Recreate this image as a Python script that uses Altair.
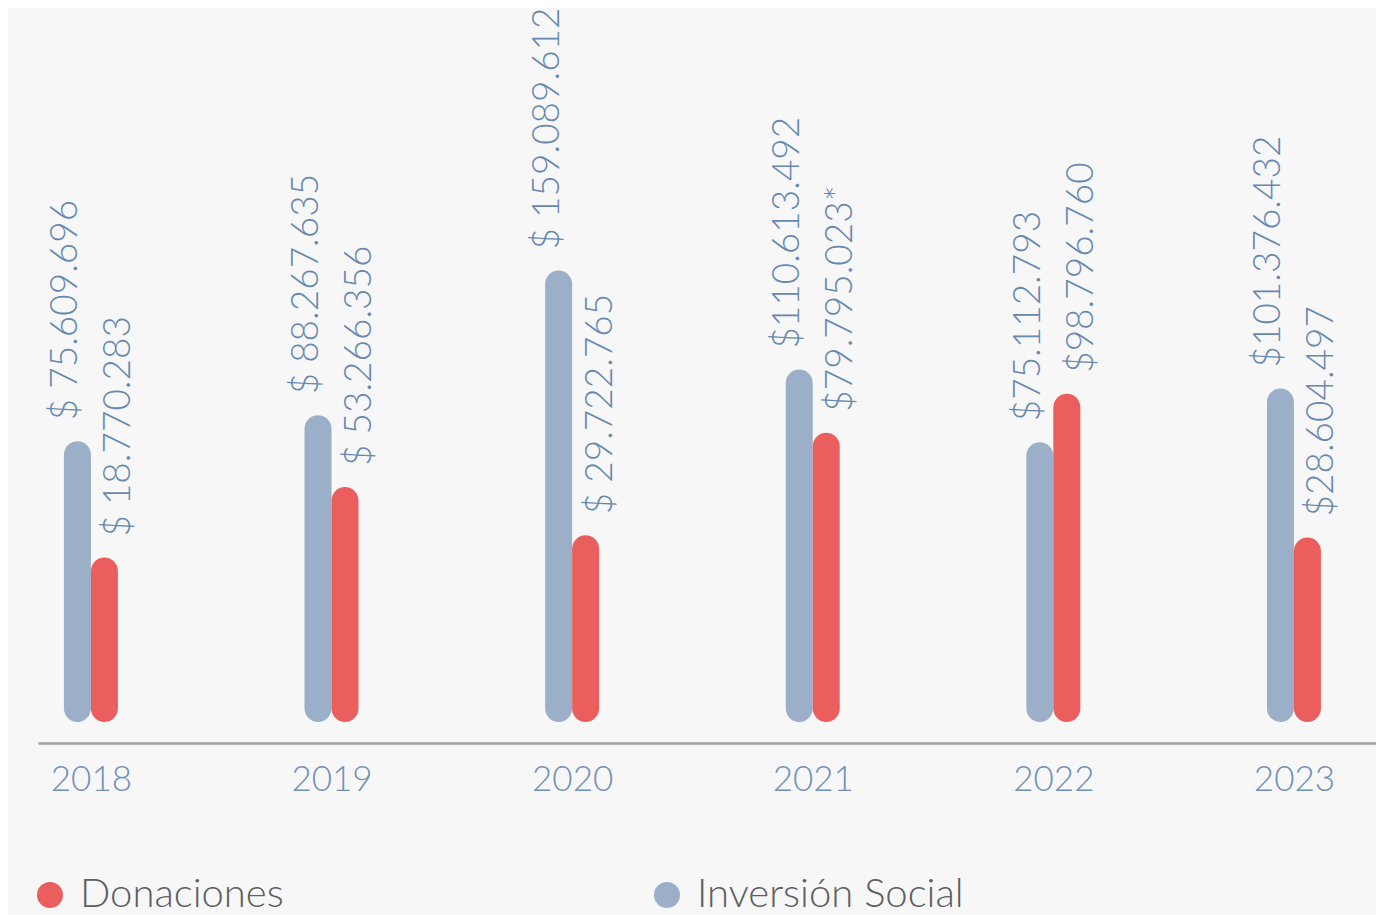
import altair as alt
import pandas as pd

# ---- data ----
years = ["2018", "2019", "2020", "2021", "2022", "2023"]
inversion = [75609696, 88267635, 159089612, 110613492, 75112793, 101376432]
donaciones = [18770283, 53266356, 29722765, 79795023, 98796760, 28604497]
inv_labels = ["$ 75.609.696", "$ 88.267.635", "$ 159.089.612",
              "$110.613.492", "$75.112.793", "$101.376.432"]
don_labels = ["$ 18.770.283", "$ 53.266.356", "$ 29.722.765",
              "$79.795.023*", "$98.796.760", "$28.604.497"]
series = ["Donaciones", "Inversión Social"]
colors = ["#ea5e5e", "#9bb0c8"]

rows = []
for i, yr in enumerate(years):
    rows.append({"year": yr, "serie": "Inversión Social", "value": inversion[i], "label": inv_labels[i]})
    rows.append({"year": yr, "serie": "Donaciones", "value": donaciones[i], "label": don_labels[i]})
df = pd.DataFrame(rows)

BASE = -61.5e6
DOMAIN = [-71.8e6, 286.3e6]
FONT = "Lato"

x = alt.X(
    "year:O",
    scale=alt.Scale(type="point", padding=0.2805, align=0.392),
    axis=alt.Axis(title=None, labelAngle=0, ticks=False, tickSize=0, grid=False,
                  domainColor="#a3a3a3", domainWidth=2.5,
                  labelFontSize=35, labelColor="#6f91b8", labelFont=FONT,
                  labelFontWeight=300, labelPadding=19),
)
y = alt.Y("value:Q", scale=alt.Scale(domain=DOMAIN, zero=False, nice=False), axis=None)
color = alt.Color(
    "serie:N",
    scale=alt.Scale(domain=series, range=colors),
    legend=alt.Legend(title=None, orient="none", legendX=-8, legendY=865,
                      direction="horizontal", symbolType="circle", symbolSize=676,
                      symbolStrokeWidth=0, symbolOpacity=1,
                      labelFontSize=40, labelFont=FONT, labelFontWeight=300,
                      labelColor="#5e5e5e", labelOffset=10, columnPadding=363,
                      padding=0, labelLimit=600),
)

base = alt.Chart(df)


def bars(s, off):
    return base.transform_filter(alt.datum.serie == s).mark_bar(
        size=27, cornerRadius=13.5, xOffset=off
    ).encode(x=x, y=y, y2=alt.datum(BASE), color=color)


def labels(s, off):
    return base.transform_filter(alt.datum.serie == s).mark_text(
        angle=270, align="left", baseline="alphabetic", xOffset=off, yOffset=-21,
        fontSize=37, font=FONT, fontWeight=300, color="#6789b0"
    ).encode(x=x, y=y, text="label:N")


chart = alt.layer(
    bars("Inversión Social", -13.5),
    bars("Donaciones", 13.5),
    labels("Inversión Social", -13.5),
    labels("Donaciones", 39.5),
).properties(
    width=1338, height=733,
    padding={"left": 30, "top": 2, "right": 0, "bottom": 172},
    autosize=alt.AutoSizeParams(type="none"),
    background="#f7f7f7",
).configure_view(strokeWidth=0)

chart.save("out.html", embed_options={"renderer": "svg", "actions": False})
